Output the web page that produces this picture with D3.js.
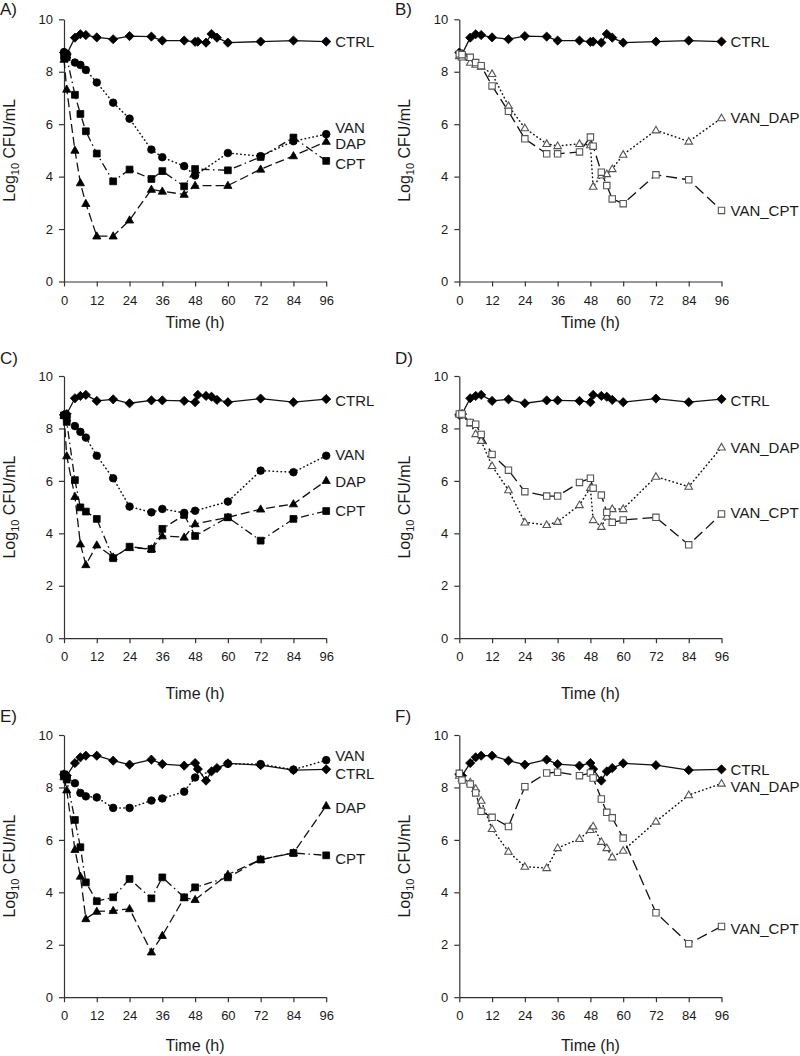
<!DOCTYPE html>
<html>
<head>
<meta charset="utf-8">
<script src="https://cdn.jsdelivr.net/npm/d3@7"></script>
<style>
  html, body { margin: 0; padding: 0; background: #fff; }
  svg text { font-family: "Liberation Sans", Arial, sans-serif; fill: #1a1a1a; }
</style>
</head>
<body>
<svg id="chart" width="800" height="1056"></svg>
<script>
// ---------- data ----------
const timesFull = [0, 1, 4, 6, 8, 12, 18, 24, 32, 36, 44, 48, 49, 52, 54, 56, 60, 72, 84, 96];
const timesMono = [0, 1, 4, 6, 8, 12, 18, 24, 32, 36, 44, 48, 60, 72, 84, 96];
const xTicks = [0, 12, 24, 36, 48, 60, 72, 84, 96];
const yTicks = [0, 2, 4, 6, 8, 10];
const panelLetters = ["A)", "B)", "C)", "D)", "E)", "F)"];

// Panels A/B
const ctrlAB = [8.73, 8.67, 9.30, 9.43, 9.40, 9.31, 9.24, 9.36, 9.34, 9.19, 9.19, 9.14, 9.15, 9.11, 9.44, 9.30, 9.11, 9.15, 9.19, 9.15];
const vanA = [8.75, 8.68, 8.35, 8.26, 8.07, 7.59, 6.82, 6.21, 5.03, 4.74, 4.40, 4.04, 4.90, 4.78, 5.35, 5.62];
const dapA = [8.47, 7.33, 5.00, 3.76, 2.97, 1.73, 1.73, 2.34, 3.51, 3.44, 3.32, 3.66, 3.66, 4.28, 4.79, 5.34];
const cptA = [8.60, 8.55, 7.12, 6.39, 5.73, 4.88, 3.82, 4.27, 3.91, 4.21, 3.63, 4.29, 4.24, 4.75, 5.49, 4.60];
const vanDapB = [8.60, 8.55, 8.35, 8.27, 8.20, 7.92, 6.70, 5.85, 5.25, 5.17, 5.25, 5.20, 3.62, 4.05, 4.10, 4.29, 4.84, 5.77, 5.34, 6.23];
const vanCptB = [8.68, 8.65, 8.55, 8.35, 8.23, 7.46, 6.49, 5.44, 4.87, 4.87, 4.94, 5.51, 5.16, 4.17, 3.66, 3.15, 2.97, 4.07, 3.88, 2.71];

// Panels C/D
const ctrlCD = [8.52, 8.55, 9.15, 9.24, 9.28, 9.05, 9.11, 8.96, 9.07, 9.07, 9.05, 9.00, 9.28, 9.24, 9.21, 9.09, 9.00, 9.14, 9.00, 9.12];
const vanC = [8.50, 8.45, 8.09, 7.87, 7.65, 6.96, 6.10, 5.02, 4.80, 4.93, 4.78, 4.86, 5.21, 6.39, 6.33, 6.96];
const dapC = [8.50, 6.95, 5.40, 3.59, 2.80, 3.55, 3.09, 3.45, 3.40, 3.90, 3.85, 4.36, 4.61, 4.92, 5.12, 6.01];
const cptC = [8.50, 8.25, 6.03, 4.99, 4.83, 4.55, 3.05, 3.49, 3.40, 4.17, 4.70, 3.90, 4.61, 3.72, 4.55, 4.85];
const vanDapD = [8.55, 8.50, 8.20, 7.79, 7.53, 6.57, 5.65, 4.42, 4.32, 4.44, 5.08, 5.74, 4.51, 4.25, 4.64, 4.93, 4.93, 6.16, 5.78, 7.28];
const vanCptD = [8.55, 8.55, 8.23, 8.16, 7.77, 7.01, 6.41, 5.59, 5.42, 5.42, 5.94, 6.10, 5.72, 5.46, 4.80, 4.42, 4.51, 4.61, 3.56, 4.74];

// Panels E/F
const ctrlEF = [8.50, 8.45, 8.93, 9.15, 9.21, 9.21, 9.02, 8.87, 9.06, 8.89, 8.83, 8.93, 8.70, 8.26, 8.61, 8.74, 8.92, 8.85, 8.66, 8.69];
const vanE = [8.45, 8.40, 8.16, 7.79, 7.66, 7.62, 7.22, 7.22, 7.50, 7.58, 7.84, 8.38, 8.90, 8.89, 8.68, 9.04];
const dapE = [8.40, 7.90, 5.63, 4.61, 2.99, 3.27, 3.30, 3.37, 1.72, 2.35, 3.79, 3.72, 4.68, 5.25, 5.50, 7.30];
const cptE = [8.50, 8.30, 6.76, 5.72, 4.38, 3.66, 3.81, 4.51, 3.77, 4.57, 3.81, 4.19, 4.57, 5.25, 5.50, 5.41];
const vanDapF = [8.45, 8.35, 8.20, 7.95, 7.50, 6.42, 5.55, 4.98, 4.93, 5.69, 6.04, 6.38, 6.52, 5.93, 5.69, 5.34, 5.59, 6.70, 7.71, 8.15];
const vanCptF = [8.54, 8.28, 8.13, 7.79, 7.09, 6.86, 6.51, 8.03, 8.55, 8.58, 8.45, 8.55, 8.36, 7.56, 7.05, 6.84, 6.07, 3.22, 2.04, 2.70];

// end-of-line label anchor values (log10 CFU/mL units)
const labelsA = [["CTRL", 9.15], ["VAN", 5.87], ["DAP", 5.25], ["CPT", 4.5]];
const labelsB = [["CTRL", 9.15], ["VAN_DAP", 6.24], ["VAN_CPT", 2.72]];
const labelsC = [["CTRL", 9.05], ["VAN", 6.99], ["DAP", 5.97], ["CPT", 4.86]];
const labelsD = [["CTRL", 9.05], ["VAN_DAP", 7.28], ["VAN_CPT", 4.8]];
const labelsE = [["VAN", 9.21], ["CTRL", 8.54], ["DAP", 7.24], ["CPT", 5.27]];
const labelsF = [["CTRL", 8.68], ["VAN_DAP", 8.02], ["VAN_CPT", 2.61]];

// ---------- styles ----------
const styles = {
  CTRL:    { marker: "diamond",  fill: "#000", stroke: "#000", dash: null,           width: 1.3, cap: "butt" },
  VAN:     { marker: "circle",   fill: "#000", stroke: "#000", dash: "0.5,3.5",      width: 1.5, cap: "round" },
  DAP:     { marker: "triangle", fill: "#000", stroke: "#000", dash: "9,4",          width: 1.3, cap: "butt" },
  CPT:     { marker: "square",   fill: "#000", stroke: "#000", dash: "8,3.5,1.5,3.5", width: 1.3, cap: "butt" },
  VAN_DAP: { marker: "otriangle", fill: "#fff", stroke: "#555", dash: "0.5,3.5",     width: 1.5, cap: "round" },
  VAN_CPT: { marker: "osquare",  fill: "#fff", stroke: "#555", dash: "11,5",         width: 1.3, cap: "butt" }
};

const panels = [
  { col: 0, row: 0, series: [["CTRL", timesFull, ctrlAB], ["DAP", timesMono, dapA], ["CPT", timesMono, cptA], ["VAN", timesMono, vanA]], labels: labelsA },
  { col: 1, row: 0, series: [["CTRL", timesFull, ctrlAB], ["VAN_DAP", timesFull, vanDapB], ["VAN_CPT", timesFull, vanCptB]], labels: labelsB },
  { col: 0, row: 1, series: [["CTRL", timesFull, ctrlCD], ["DAP", timesMono, dapC], ["CPT", timesMono, cptC], ["VAN", timesMono, vanC]], labels: labelsC },
  { col: 1, row: 1, series: [["CTRL", timesFull, ctrlCD], ["VAN_DAP", timesFull, vanDapD], ["VAN_CPT", timesFull, vanCptD]], labels: labelsD },
  { col: 0, row: 2, series: [["CTRL", timesFull, ctrlEF], ["DAP", timesMono, dapE], ["CPT", timesMono, cptE], ["VAN", timesMono, vanE]], labels: labelsE },
  { col: 1, row: 2, series: [["CTRL", timesFull, ctrlEF], ["VAN_DAP", timesFull, vanDapF], ["VAN_CPT", timesFull, vanCptF]], labels: labelsF }
];

// ---------- layout ----------
const colLeft = [64, 459.3];
const colLetterX = [0, 395];
const rowTop = [19.3, 376, 735];
const plotW = 262.2, plotH = 262.2;
const timeTitleBase = [327.5, 699, 1051];
const letterBase = [15, 364, 722];

const svg = d3.select("#chart");

function markerPath(type) {
  switch (type) {
    case "diamond": { const r = 4.6; return `M0,${-r}L${r},0L0,${r}L${-r},0Z`; }
    case "circle": { const r = 3.8; return `M${r},0A${r},${r} 0 1,1 ${-r},0A${r},${r} 0 1,1 ${r},0Z`; }
    case "triangle": { const h = 7.2, w = 4.1; return `M0,${-h * 0.6}L${w},${h * 0.4}L${-w},${h * 0.4}Z`; }
    case "square": { const s = 3.4; return `M${-s},${-s}H${s}V${s}H${-s}Z`; }
    case "otriangle": { const h = 6.6, w = 3.8; return `M0,${-h * 0.6}L${w},${h * 0.4}L${-w},${h * 0.4}Z`; }
    case "osquare": { const s = 3.2; return `M${-s},${-s}H${s}V${s}H${-s}Z`; }
  }
}

panels.forEach((p, i) => {
  const left = colLeft[p.col], top = rowTop[p.row];
  const x = d3.scaleLinear().domain([0, 96]).range([left, left + plotW]);
  const y = d3.scaleLinear().domain([0, 10]).range([top + plotH, top]);
  const g = svg.append("g");

  // axes
  const xa = g.append("g").attr("transform", `translate(0,${top + plotH})`)
    .call(d3.axisBottom(x).tickValues(xTicks).tickSize(5).tickSizeOuter(0).tickPadding(9).tickFormat(d3.format("d")));
  const ya = g.append("g").attr("transform", `translate(${left},0)`)
    .call(d3.axisLeft(y).tickValues(yTicks).tickSize(5).tickSizeOuter(0).tickPadding(6).tickFormat(d3.format("d")));
  [xa, ya].forEach(a => {
    a.selectAll("path.domain").attr("stroke", "#333").attr("stroke-width", 1.2);
    a.selectAll(".tick line").attr("stroke", "#333").attr("stroke-width", 1.2);
    a.selectAll(".tick text").attr("font-size", 13).attr("fill", "#1a1a1a")
      .attr("font-family", '"Liberation Sans", Arial, sans-serif');
  });

  // axis titles
  g.append("text")
    .attr("x", left + plotW / 2).attr("y", timeTitleBase[p.row])
    .attr("text-anchor", "middle").attr("font-size", 16).text("Time (h)");
  const yt = g.append("text")
    .attr("transform", `translate(${left - 49},${top + plotH / 2}) rotate(-90)`)
    .attr("text-anchor", "middle").attr("font-size", 16);
  yt.append("tspan").text("Log");
  yt.append("tspan").attr("font-size", 11).attr("dy", 4).text("10");
  yt.append("tspan").attr("dy", -4).text(" CFU/mL");

  // panel letter
  g.append("text").attr("x", colLetterX[p.col]).attr("y", letterBase[p.row])
    .attr("font-size", 17).text(panelLetters[i]);

  const line = d3.line().x(d => x(d[0])).y(d => y(d[1]));

  // lines
  p.series.forEach(([name, ts, vs]) => {
    const st = styles[name];
    const pts = ts.map((t, k) => [t, vs[k]]);
    g.append("path").datum(pts).attr("d", line)
      .attr("fill", "none").attr("stroke", "#111").attr("stroke-width", st.width)
      .attr("stroke-dasharray", st.dash).attr("stroke-linecap", st.cap)
      .attr("stroke-linejoin", "round");
  });
  // markers
  p.series.forEach(([name, ts, vs]) => {
    const st = styles[name];
    const pts = ts.map((t, k) => [t, vs[k]]);
    g.append("g").selectAll("path").data(pts).join("path")
      .attr("transform", d => `translate(${x(d[0])},${y(d[1])})`)
      .attr("d", markerPath(st.marker))
      .attr("fill", st.fill).attr("stroke", st.stroke)
      .attr("stroke-width", st.marker.startsWith("o") ? 1.1 : 0.8);
  });

  // end labels
  p.labels.forEach(([name, v]) => {
    g.append("text").attr("x", x(96) + 9).attr("y", y(v)).attr("dy", "0.36em")
      .attr("font-size", 15).text(name);
  });
});
</script>
</body>
</html>
